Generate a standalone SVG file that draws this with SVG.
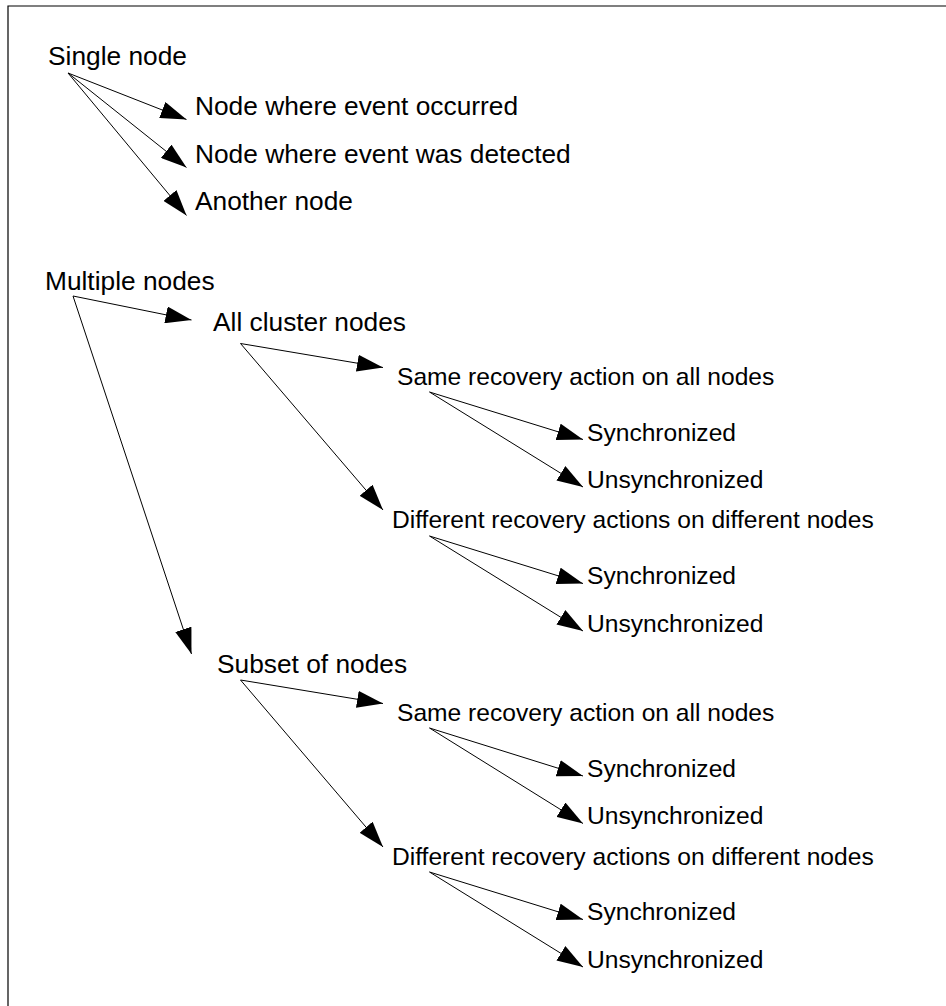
<svg xmlns="http://www.w3.org/2000/svg" width="946" height="1006" viewBox="0 0 946 1006">
  <style>
    .t { font-family: "Liberation Sans", Arial, sans-serif; fill: #000; }
    .lg { font-size: 26.3px; }
    .sm { font-size: 24.6px; }
    .edge { stroke: #000; stroke-width: 1; fill: none; marker-end: url(#head); }
    .frame { stroke: #000; stroke-width: 1.2; fill: none; }
  </style>
  <defs>
    <marker id="head" markerUnits="userSpaceOnUse" viewBox="0 0 26 17" markerWidth="26" markerHeight="17" refX="26" refY="8.5" orient="auto">
      <path d="M0,0 L26,8.5 L0,17 z" fill="#000"/>
    </marker>
  </defs>
  <rect width="946" height="1006" fill="#fff"/>
  <!-- frame: top and left rules -->
  <path class="frame" d="M946,6 H8 V1006"/>

  <g id="connectors">
    <!-- single node branches -->
    <line class="edge" x1="68" y1="73" x2="186.5" y2="119.5"/>
    <line class="edge" x1="68" y1="73" x2="186.5" y2="167.5"/>
    <line class="edge" x1="68" y1="73" x2="186.5" y2="215.5"/>
    <!-- multiple nodes branches -->
    <line class="edge" x1="73" y1="296" x2="191.5" y2="320"/>
    <line class="edge" x1="73" y1="296" x2="191.5" y2="654"/>
    <!-- all cluster nodes -->
    <line class="edge" x1="240.5" y1="343.5" x2="383" y2="367.5"/>
    <line class="edge" x1="240.5" y1="343.5" x2="383" y2="510"/>
    <line class="edge" x1="429.5" y1="392" x2="583" y2="439.5"/>
    <line class="edge" x1="429.5" y1="392" x2="583" y2="487"/>
    <line class="edge" x1="429.5" y1="536" x2="583" y2="583.5"/>
    <line class="edge" x1="429.5" y1="536" x2="583" y2="631"/>
    <!-- subset of nodes -->
    <line class="edge" x1="240.5" y1="680" x2="383" y2="703.5"/>
    <line class="edge" x1="240.5" y1="680" x2="383" y2="847"/>
    <line class="edge" x1="429.5" y1="728" x2="583" y2="776"/>
    <line class="edge" x1="429.5" y1="728" x2="583" y2="823.5"/>
    <line class="edge" x1="429.5" y1="872" x2="583" y2="919.5"/>
    <line class="edge" x1="429.5" y1="872" x2="583" y2="967"/>
  </g>

  <g id="n-single"><text class="t lg" x="48" y="65">Single node</text></g>
  <g id="n-occurred"><text class="t lg" x="195" y="115">Node where event occurred</text></g>
  <g id="n-detected"><text class="t lg" x="195" y="162.5">Node where event was detected</text></g>
  <g id="n-another"><text class="t lg" x="195" y="210">Another node</text></g>

  <g id="n-multiple"><text class="t lg" x="45" y="290">Multiple nodes</text></g>
  <g id="n-all"><text class="t lg" x="213" y="331">All cluster nodes</text></g>
  <g id="n-all-same"><text class="t sm" x="397" y="385">Same recovery action on all nodes</text></g>
  <g id="n-all-same-sync"><text class="t sm" x="587" y="440.5">Synchronized</text></g>
  <g id="n-all-same-unsync"><text class="t sm" x="587" y="488">Unsynchronized</text></g>
  <g id="n-all-diff"><text class="t sm" x="392" y="528">Different recovery actions on different nodes</text></g>
  <g id="n-all-diff-sync"><text class="t sm" x="587" y="584">Synchronized</text></g>
  <g id="n-all-diff-unsync"><text class="t sm" x="587" y="631.5">Unsynchronized</text></g>

  <g id="n-subset"><text class="t lg" x="217" y="673">Subset of nodes</text></g>
  <g id="n-sub-same"><text class="t sm" x="397" y="721">Same recovery action on all nodes</text></g>
  <g id="n-sub-same-sync"><text class="t sm" x="587" y="776.5">Synchronized</text></g>
  <g id="n-sub-same-unsync"><text class="t sm" x="587" y="823.5">Unsynchronized</text></g>
  <g id="n-sub-diff"><text class="t sm" x="392" y="865">Different recovery actions on different nodes</text></g>
  <g id="n-sub-diff-sync"><text class="t sm" x="587" y="920">Synchronized</text></g>
  <g id="n-sub-diff-unsync"><text class="t sm" x="587" y="967.5">Unsynchronized</text></g>
</svg>
